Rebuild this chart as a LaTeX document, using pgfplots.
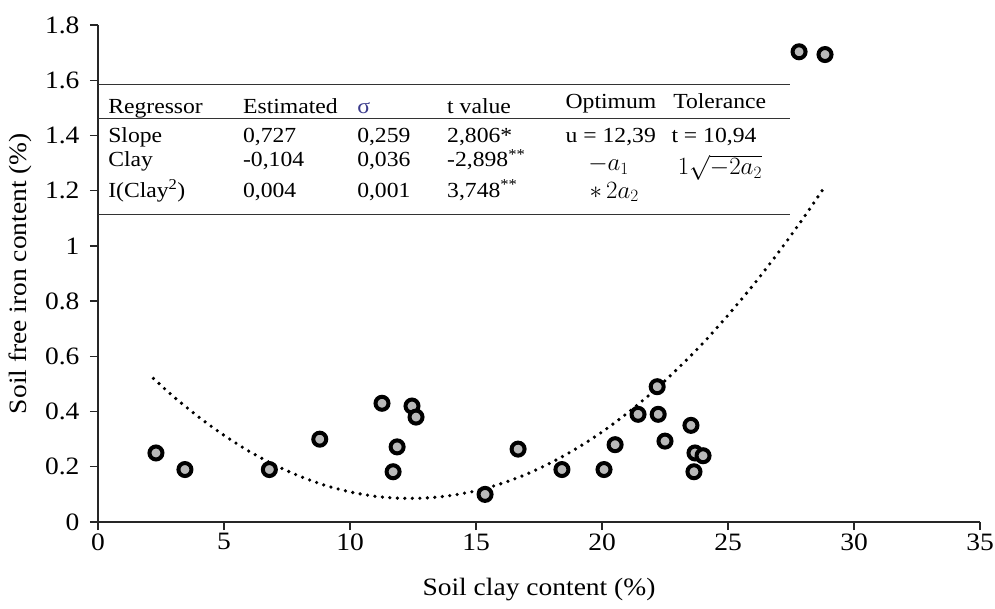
\documentclass[border=0pt]{standalone}
\usepackage{fontspec}
\setmainfont{Liberation Serif}[FakeStretch=1.1]
\usepackage{pgfplots}
\pgfplotsset{compat=1.18}
\definecolor{sig}{RGB}{60,60,140}
\begin{document}
\begin{tikzpicture}
\begin{axis}[
 scale only axis, width=882pt, height=497pt,
 xmin=0, xmax=35, ymin=0, ymax=1.8,
 axis x line=bottom, axis y line=left,
 axis line style={-, line width=1.3pt, black!85},
 xtick={0,5,10,15,20,25,30,35},
 ytick={0,0.2,0.4,0.6,0.8,1,1.2,1.4,1.6,1.8},
 tick align=outside, major tick length=8pt,
 tick style={line width=1.3pt, black!85},
 /pgf/number format/assume math mode=true,
 tick label style={font=\fontsize{25}{28}\selectfont},
 yticklabel style={xshift=-7pt},
 label style={font=\fontsize{25}{28}\selectfont},
 xlabel={Soil clay content (\%)}, ylabel={Soil free iron content (\%)},
 xlabel style={at={(axis description cs:0.5,-0.1368)}, anchor=center},
 ylabel style={at={(axis description cs:-0.0884,0.5)}, anchor=center},
 clip=false,
]
% fitted quadratic curve
\addplot[black, line width=3.6pt, line cap=round, dash pattern=on 0pt off 7.5pt, smooth] coordinates {
(2.2,0.520)(3,0.454)(4,0.380)(5,0.314)(6,0.256)(7,0.207)(8,0.166)(9,0.133)(10,0.109)
(11,0.093)(12,0.086)(13,0.087)(14,0.096)(15,0.113)(16,0.139)(17,0.173)(18,0.216)
(19,0.267)(20,0.326)(21,0.394)(22,0.470)(23,0.555)(24,0.647)(25,0.749)(26,0.858)
(27,0.976)(28,1.102)(28.8,1.209)};
% observations
\addplot[only marks, mark=*, mark size=6.5pt, mark options={fill=gray!55, draw=black, line width=4pt}] coordinates {
(2.30,0.25)(3.45,0.19)(6.80,0.19)(8.80,0.30)(11.27,0.43)(12.46,0.42)(12.62,0.38)
(11.87,0.272)(11.71,0.182)(15.36,0.10)(16.67,0.264)(18.41,0.19)(20.08,0.19)(20.52,0.28)
(21.43,0.39)(22.19,0.49)(22.23,0.39)(22.50,0.293)(23.53,0.35)(23.69,0.25)(23.65,0.182)
(24.01,0.24)(27.82,1.703)(28.85,1.693)};
% table
\draw[line width=1pt, black!80] (axis cs:0,1.583) -- (axis cs:27.46,1.583);
\draw[line width=1pt, black!80] (axis cs:0,1.460) -- (axis cs:27.46,1.460);
\draw[line width=1pt, black!80] (axis cs:0,1.112) -- (axis cs:27.46,1.112);
\begin{scope}[every node/.style={anchor=base west, inner sep=0pt, font=\fontsize{21.5}{24}\selectfont}]
\node at (axis cs:0.40,1.481) {Regressor};
\node at (axis cs:5.75,1.481) {Estimated};
\node at (axis cs:10.28,1.481) {\textcolor{sig}{σ}};
\node at (axis cs:13.85,1.481) {t value};
\node at (axis cs:18.55,1.499) {Optimum};
\node at (axis cs:22.82,1.499) {Tolerance};
\node at (axis cs:0.40,1.373) {Slope};
\node at (axis cs:5.75,1.373) {0,727};
\node at (axis cs:10.28,1.373) {0,259};
\node at (axis cs:13.85,1.373) {2,806*};
\node at (axis cs:18.55,1.373) {u = 12,39};
\node at (axis cs:22.75,1.373) {t = 10,94};
\node at (axis cs:0.40,1.286) {Clay};
\node at (axis cs:5.75,1.286) {-0,104};
\node at (axis cs:10.28,1.286) {0,036};
\node at (axis cs:13.85,1.286) {-2,898\textsuperscript{**}};
\node at (axis cs:19.45,1.272) {\fontsize{24}{26}\selectfont$-a_1$};
\node at (axis cs:23.0,1.257) {\fontsize{23.5}{26}\selectfont$1\sqrt{-2a_2}$};
\node at (axis cs:0.40,1.177) {I(Clay\textsuperscript{2})};
\node at (axis cs:5.75,1.177) {0,004};
\node at (axis cs:10.28,1.177) {0,001};
\node at (axis cs:13.85,1.177) {3,748\textsuperscript{**}};
\node at (axis cs:19.50,1.173) {\fontsize{24}{26}\selectfont$*\,2a_2$};
\end{scope}
\end{axis}
\pgfresetboundingbox
\path[use as bounding box] ([xshift=-98pt,yshift=-86pt]current axis.south west) rectangle ([xshift=15pt,yshift=25pt]current axis.north east);
\end{tikzpicture}
\end{document}
